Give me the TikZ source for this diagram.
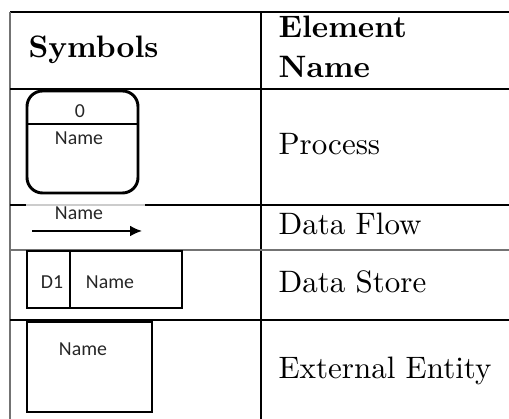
\documentclass[tikz,border=0pt]{standalone}
\usepackage{fontspec}
\newfontfamily\symfont{Carlito}
\usetikzlibrary{arrows.meta}
\begin{document}
\begin{tikzpicture}[x=0.3226pt,y=-0.3226pt,
  tabline/.style={line width=0.5pt,draw=black},
  grayline/.style={line width=0.6pt,draw=black!55},
  symline/.style={line width=0.95pt,draw=black},
  symtext/.style={font=\symfont\fontsize{6.4}{7}\selectfont,inner sep=0pt,text=black!85},
  headtext/.style={font=\bfseries,inner sep=0pt,anchor=base west},
  celltext/.style={inner sep=0pt,anchor=base west}]
\useasboundingbox (0,0) rectangle (509,419);
% table grid
\draw[tabline] (10,12) -- (509,12);
\draw[grayline] (10,12) -- (10,419);
\draw[tabline] (261,12) -- (261,419);
\draw[tabline] (10,89) -- (509,89);
\draw[tabline] (10,205) -- (26,205);
\draw[line width=0.5pt,draw=black!20] (26,205) -- (145,205);
\draw[tabline] (145,205) -- (509,205);
\draw[grayline] (10,250) -- (509,250);
\draw[tabline] (10,320) -- (509,320);
% header
\node[headtext] (hsym) at (28,58) {Symbols};
\node[headtext] (hel1) at (278,38) {Element};
\node[headtext] (hel2) at (278,78) {Name};
% names
\node[celltext] (nproc) at (278,155) {Process};
\node[celltext] (nflow) at (278,235) {Data Flow};
\node[celltext] (nstore) at (278,293) {Data Store};
\node[celltext] (nent) at (278,379) {External Entity};
% process symbol
\draw[symline,rounded corners=5pt] (27,91) rectangle (138,193);
\draw[symline,line width=0.6pt] (27,124) -- (138,124);
\node[symtext] (p0) at (80,111) {0};
\node[symtext] (pname) at (79,138) {Name};
% data flow symbol
\node[symtext] (fname) at (79,213) {Name};
\coordinate (fa) at (32,231);
\coordinate (fb) at (142,231);
\draw[line width=0.5pt,-{Latex[length=3.8pt,width=3.4pt]}] (fa) -- (fb);
% data store symbol
\draw[symline] (27,251) rectangle (182,308);
\draw[symline,line width=0.7pt] (70,251) -- (70,308);
\node[symtext] (sd1) at (52,282) {D1};
\node[symtext] (sname) at (110,282) {Name};
% external entity symbol
\draw[symline] (27,322) rectangle (152,412);
\node[symtext] (ename) at (83,349) {Name};
\end{tikzpicture}
\end{document}
